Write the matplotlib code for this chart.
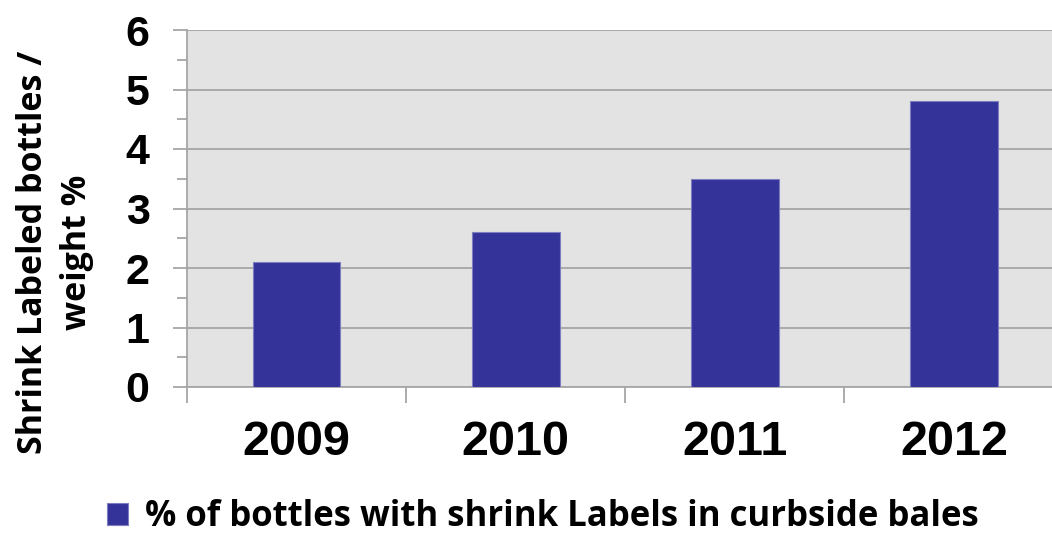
import matplotlib
matplotlib.use('Agg')
import matplotlib.pyplot as plt
from matplotlib.ticker import MultipleLocator, FixedLocator, NullFormatter
import numpy as np

# data
years = ['2009', '2010', '2011', '2012']
shrink_pct = [2.1, 2.6, 3.5, 4.8]
series_label = '% of bottles with shrink Labels in curbside bales'
y_label = 'Shrink Labeled bottles /\nweight %'

bar_color = '#333399'
grid_color = '#a6a6a6'

fig = plt.figure(figsize=(10.52, 5.34), dpi=100)
fig.patch.set_facecolor('white')
ax = fig.add_axes([187 / 1052, 147 / 534, 876.5 / 1052, 357 / 534])
ax.set_facecolor('#e3e3e3')

x = np.arange(len(years))
ax.bar(x, shrink_pct, width=0.4, color=bar_color, edgecolor='#7d7dbf',
       linewidth=0.8, zorder=3, label=series_label)

ax.set_xlim(-0.5, len(years) - 0.5)
ax.set_ylim(0, 6)

# gridlines
ax.yaxis.set_major_locator(MultipleLocator(1))
ax.yaxis.set_minor_locator(MultipleLocator(0.5))
ax.grid(axis='y', which='major', color=grid_color, linewidth=1.3, zorder=1)
ax.set_axisbelow(True)

# spines
for side in ['top', 'right']:
    ax.spines[side].set_visible(False)
for side in ['left', 'bottom']:
    ax.spines[side].set_color(grid_color)
    ax.spines[side].set_linewidth(1.3)

# y ticks
ax.tick_params(axis='y', which='major', length=10, width=1.3, color=grid_color,
               pad=17, labelsize=31)
ax.tick_params(axis='y', which='minor', length=7, width=1.3, color=grid_color)
for lbl in ax.get_yticklabels():
    lbl.set_fontfamily(['Liberation Sans', 'DejaVu Sans'])
    lbl.set_fontweight('bold')

# x ticks: boundary marks as major, year labels on minor
ax.xaxis.set_major_locator(FixedLocator(np.arange(len(years) + 1) - 0.5))
ax.xaxis.set_major_formatter(NullFormatter())
ax.xaxis.set_minor_locator(FixedLocator(x))
ax.set_xticklabels(years, minor=True)
ax.tick_params(axis='x', which='major', length=11.5, width=1.3, color=grid_color)
ax.tick_params(axis='x', which='minor', length=0, pad=24, labelsize=35)
for lbl in ax.get_xticklabels(minor=True):
    lbl.set_fontfamily(['Liberation Sans', 'DejaVu Sans'])
    lbl.set_fontweight('bold')

# y title sits a bit below the axis centre, as in the original
fig.text(55 / 1052, 1 - 252 / 534, y_label, rotation=90, ha='center', va='center',
         multialignment='center', fontsize=24.5, fontweight='bold',
         family=['Open Sans', 'DejaVu Sans'], linespacing=1.35)

# legend below the plot
leg = ax.legend(loc='center', bbox_to_anchor=(543 / 1052, 17 / 534),
                bbox_transform=fig.transFigure, frameon=False,
                handlelength=0.6, handleheight=0.6, handletextpad=0.5,
                prop={'family': ['Open Sans', 'DejaVu Sans'], 'weight': 'bold', 'size': 25})

fig.savefig('out.png', dpi=100)
